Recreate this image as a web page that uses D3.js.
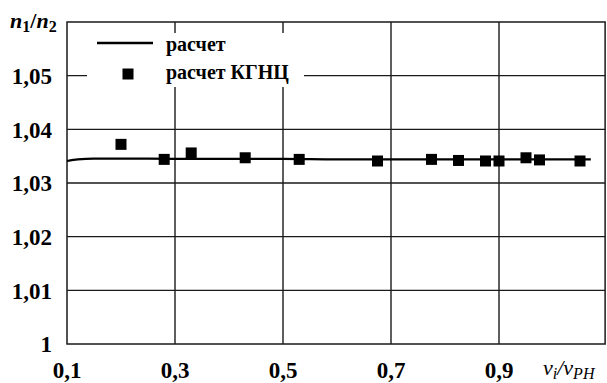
<!DOCTYPE html>
<html><head><meta charset="utf-8">
<script src="https://cdn.jsdelivr.net/npm/d3@7"></script>
<style>
html,body{margin:0;padding:0;background:#fff;}
svg{display:block;}
</style></head>
<body>
<script>
// ---- data ----
const xTickValues = [0.1, 0.3, 0.5, 0.7, 0.9];
const xTickLabels = ["0,1", "0,3", "0,5", "0,7", "0,9"];
const yTickValues = [1, 1.01, 1.02, 1.03, 1.04, 1.05];
const yTickLabels = ["1", "1,01", "1,02", "1,03", "1,04", "1,05"];
const xGridValues = [0.3, 0.5, 0.7, 0.9];

const lineX = [0.1, 0.12, 0.15, 0.2, 0.3, 0.4, 0.5, 0.6, 0.7, 0.8, 0.9, 1.0, 1.07];
const lineY = [1.0341, 1.0344, 1.03455, 1.03455, 1.0345, 1.0345, 1.0345, 1.0344, 1.0344, 1.0344, 1.0344, 1.0344, 1.0344];

const kgncX = [0.20, 0.28, 0.33, 0.43, 0.53, 0.675, 0.775, 0.825, 0.875, 0.90, 0.95, 0.975, 1.05];
const kgncY = [1.0372, 1.0344, 1.0356, 1.0347, 1.0344, 1.0341, 1.0344, 1.0342, 1.0341, 1.0341, 1.0347, 1.0343, 1.0341];

const legendLabels = ["расчет", "расчет КГНЦ"];

// ---- layout ----
const W = 607, H = 383;
const SERIF = "Liberation Serif";
const x = d3.scaleLinear().domain([0.1, 1.1]).range([67, 607]);
const y = d3.scaleLinear().domain([1, 1.06]).range([344, 22]);
const xEnd = 1.0965;

const svg = d3.select("body").append("svg").attr("width", W).attr("height", H);

// gridlines
svg.append("g").selectAll("line").data(yTickValues.slice(1)).join("line")
  .attr("x1", x(0.1)).attr("x2", x(xEnd))
  .attr("y1", d => y(d)).attr("y2", d => y(d))
  .attr("stroke", "#1a1a1a").attr("stroke-width", 1.4);
svg.append("g").selectAll("line").data(xGridValues).join("line")
  .attr("x1", d => x(d)).attr("x2", d => x(d))
  .attr("y1", y(1)).attr("y2", y(1.06))
  .attr("stroke", "#1a1a1a").attr("stroke-width", 1.4);

// frame
svg.append("rect")
  .attr("x", x(0.1)).attr("y", y(1.06))
  .attr("width", x(xEnd) - x(0.1)).attr("height", y(1) - y(1.06))
  .attr("fill", "none").attr("stroke", "#1a1a1a").attr("stroke-width", 1.5);

// y tick labels
svg.append("g").selectAll("text").data(yTickValues).join("text")
  .attr("font-family", SERIF)
  .attr("x", 52).attr("y", d => y(d)).attr("dy", "0.36em")
  .attr("text-anchor", "end").attr("font-weight", "bold").attr("font-size", 23)
  .text((d, i) => yTickLabels[i]);

// x tick labels
svg.append("g").selectAll("text").data(xTickValues).join("text")
  .attr("font-family", SERIF)
  .attr("x", d => x(d)).attr("y", 378)
  .attr("text-anchor", "middle").attr("font-weight", "bold").attr("font-size", 23)
  .text((d, i) => xTickLabels[i]);

// axis titles
const yt = svg.append("text").attr("font-family", SERIF)
  .attr("x", 10).attr("y", 28)
  .attr("font-weight", "bold").attr("font-size", 22);
yt.append("tspan").attr("font-style", "italic").text("n");
yt.append("tspan").attr("font-size", 16).attr("dy", 4).text("1");
yt.append("tspan").attr("dy", -4).text("/");
yt.append("tspan").attr("font-style", "italic").text("n");
yt.append("tspan").attr("font-size", 16).attr("dy", 4).text("2");

const xt = svg.append("text").attr("font-family", SERIF)
  .attr("x", 543).attr("y", 375)
  .attr("font-size", 22).attr("font-style", "italic");
xt.append("tspan").text("v");
xt.append("tspan").attr("font-size", 16).attr("dy", 4).text("i");
xt.append("tspan").attr("dy", -4).text("/v");
xt.append("tspan").attr("font-size", 16).attr("dy", 4).text("PH");

// legend
const lg = svg.append("g");
lg.append("rect").attr("x", 87).attr("y", 33).attr("width", 217).attr("height", 54).attr("fill", "#fff");
lg.append("line").attr("x1", 97).attr("x2", 153).attr("y1", 43).attr("y2", 43)
  .attr("stroke", "#000").attr("stroke-width", 2.6);
lg.append("rect").attr("x", 128 - 5.5).attr("y", 74 - 5.5).attr("width", 11).attr("height", 11).attr("fill", "#000");
lg.selectAll("text").data(legendLabels).join("text")
  .attr("font-family", SERIF)
  .attr("x", 166).attr("y", (d, i) => 51 + i * 28)
  .attr("font-weight", "bold").attr("font-size", 20)
  .text(d => d);

// calc line
const lineData = lineX.map((v, i) => [v, lineY[i]]);
svg.append("path").datum(lineData)
  .attr("d", d3.line().x(d => x(d[0])).y(d => y(d[1])).curve(d3.curveMonotoneX))
  .attr("fill", "none").attr("stroke", "#000").attr("stroke-width", 2.2);

// markers
svg.append("g").selectAll("rect").data(kgncX.map((v, i) => [v, kgncY[i]])).join("rect")
  .attr("x", d => x(d[0]) - 5.5).attr("y", d => y(d[1]) - 5.5)
  .attr("width", 11).attr("height", 11).attr("fill", "#000");
</script>
</body></html>
